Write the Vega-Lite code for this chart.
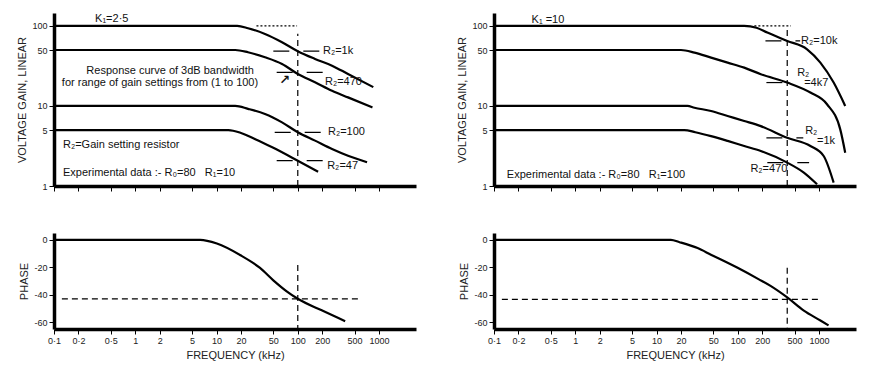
{
  "$schema": "https://vega.github.io/schema/vega-lite/v6.json",
  "background": "white",
  "padding": {"left": 16, "top": 13, "right": 5, "bottom": 4},
  "columns": 2,
  "spacing": {"row": 41, "column": 40},
  "config": {
    "view": {"stroke": null},
    "font": "Liberation Sans",
    "axis": {
      "domainColor": "black", "domainWidth": 3.5, "tickColor": "black", "tickWidth": 1, "tickSize": 5,
      "labelFont": "Liberation Sans", "labelFontSize": 9, "labelColor": "#222",
      "titleFont": "Liberation Sans", "titleFontSize": 11, "titleFontWeight": "normal", "titleColor": "#222",
      "grid": false, "labelPadding": 2, "titlePadding": 4, "labelFlush": false, "labelOverlap": false
    }
  },
  "datasets": {
    "curves": [
      {"panel": "A", "curve": "1k", "f": 0.1, "v": 100}, {"panel": "A", "curve": "1k", "f": 18, "v": 100}, {"panel": "A", "curve": "1k", "f": 24.4, "v": 93.6}, {"panel": "A", "curve": "1k", "f": 39.5, "v": 79.4}, {"panel": "A", "curve": "1k", "f": 64, "v": 62.6}, {"panel": "A", "curve": "1k", "f": 100, "v": 48.3}, {"panel": "A", "curve": "1k", "f": 163, "v": 38.7}, {"panel": "A", "curve": "1k", "f": 264, "v": 31.9}, {"panel": "A", "curve": "1k", "f": 415, "v": 25.1}, {"panel": "A", "curve": "1k", "f": 850, "v": 17.2},
      {"panel": "A", "curve": "470", "f": 0.1, "v": 50}, {"panel": "A", "curve": "470", "f": 17, "v": 50}, {"panel": "A", "curve": "470", "f": 24.4, "v": 46.9}, {"panel": "A", "curve": "470", "f": 39.5, "v": 40.6}, {"panel": "A", "curve": "470", "f": 64, "v": 33.5}, {"panel": "A", "curve": "470", "f": 100, "v": 25.1}, {"panel": "A", "curve": "470", "f": 163, "v": 19.8}, {"panel": "A", "curve": "470", "f": 264, "v": 15.5}, {"panel": "A", "curve": "470", "f": 415, "v": 12.8}, {"panel": "A", "curve": "470", "f": 830, "v": 9.6},
      {"panel": "A", "curve": "100", "f": 0.1, "v": 10}, {"panel": "A", "curve": "100", "f": 17, "v": 10}, {"panel": "A", "curve": "100", "f": 24.4, "v": 9.2}, {"panel": "A", "curve": "100", "f": 39.5, "v": 7.95}, {"panel": "A", "curve": "100", "f": 64, "v": 6.24}, {"panel": "A", "curve": "100", "f": 100, "v": 4.69}, {"panel": "A", "curve": "100", "f": 163, "v": 3.69}, {"panel": "A", "curve": "100", "f": 264, "v": 2.9}, {"panel": "A", "curve": "100", "f": 415, "v": 2.39}, {"panel": "A", "curve": "100", "f": 712, "v": 1.98},
      {"panel": "A", "curve": "47", "f": 0.1, "v": 5}, {"panel": "A", "curve": "47", "f": 14, "v": 5}, {"panel": "A", "curve": "47", "f": 20, "v": 4.6}, {"panel": "A", "curve": "47", "f": 30, "v": 3.85}, {"panel": "A", "curve": "47", "f": 50, "v": 3.0}, {"panel": "A", "curve": "47", "f": 100, "v": 2.07}, {"panel": "A", "curve": "47", "f": 178, "v": 1.51},
      {"panel": "B", "curve": "10k", "f": 0.1, "v": 100}, {"panel": "B", "curve": "10k", "f": 120, "v": 100}, {"panel": "B", "curve": "10k", "f": 170, "v": 95}, {"panel": "B", "curve": "10k", "f": 231, "v": 82.5}, {"panel": "B", "curve": "10k", "f": 406, "v": 65}, {"panel": "B", "curve": "10k", "f": 713, "v": 51.1}, {"panel": "B", "curve": "10k", "f": 1038, "v": 34.8}, {"panel": "B", "curve": "10k", "f": 1513, "v": 19.6}, {"panel": "B", "curve": "10k", "f": 2100, "v": 10},
      {"panel": "B", "curve": "4k7", "f": 0.1, "v": 50}, {"panel": "B", "curve": "4k7", "f": 20, "v": 50}, {"panel": "B", "curve": "4k7", "f": 29.3, "v": 46.4}, {"panel": "B", "curve": "4k7", "f": 46.9, "v": 40.2}, {"panel": "B", "curve": "4k7", "f": 75, "v": 34.8}, {"panel": "B", "curve": "4k7", "f": 120, "v": 30.1}, {"panel": "B", "curve": "4k7", "f": 192, "v": 24.9}, {"panel": "B", "curve": "4k7", "f": 406, "v": 19.6}, {"panel": "B", "curve": "4k7", "f": 783, "v": 14.7}, {"panel": "B", "curve": "4k7", "f": 1253, "v": 10.5}, {"panel": "B", "curve": "4k7", "f": 1824, "v": 5.1}, {"panel": "B", "curve": "4k7", "f": 2100, "v": 2.6},
      {"panel": "B", "curve": "1k", "f": 0.1, "v": 10}, {"panel": "B", "curve": "1k", "f": 24, "v": 10}, {"panel": "B", "curve": "1k", "f": 29.3, "v": 9.5}, {"panel": "B", "curve": "1k", "f": 46.9, "v": 8.66}, {"panel": "B", "curve": "1k", "f": 75, "v": 7.5}, {"panel": "B", "curve": "1k", "f": 120, "v": 6.5}, {"panel": "B", "curve": "1k", "f": 192, "v": 5.6}, {"panel": "B", "curve": "1k", "f": 406, "v": 4.0}, {"panel": "B", "curve": "1k", "f": 783, "v": 3.16}, {"panel": "B", "curve": "1k", "f": 1140, "v": 2.37}, {"panel": "B", "curve": "1k", "f": 1513, "v": 1.1},
      {"panel": "B", "curve": "470", "f": 0.1, "v": 5}, {"panel": "B", "curve": "470", "f": 22, "v": 5}, {"panel": "B", "curve": "470", "f": 30, "v": 4.7}, {"panel": "B", "curve": "470", "f": 46.9, "v": 4.2}, {"panel": "B", "curve": "470", "f": 75, "v": 3.66}, {"panel": "B", "curve": "470", "f": 120, "v": 3.16}, {"panel": "B", "curve": "470", "f": 192, "v": 2.74}, {"panel": "B", "curve": "470", "f": 406, "v": 1.96}, {"panel": "B", "curve": "470", "f": 650, "v": 1.47}, {"panel": "B", "curve": "470", "f": 946, "v": 1.05},
      {"panel": "C", "curve": "phase", "f": 0.1, "v": 0}, {"panel": "C", "curve": "phase", "f": 6.3, "v": 0}, {"panel": "C", "curve": "phase", "f": 10.1, "v": -2.7}, {"panel": "C", "curve": "phase", "f": 19.7, "v": -11.2}, {"panel": "C", "curve": "phase", "f": 34.3, "v": -20.5}, {"panel": "C", "curve": "phase", "f": 50, "v": -29.5}, {"panel": "C", "curve": "phase", "f": 73, "v": -37.5}, {"panel": "C", "curve": "phase", "f": 100, "v": -42.9}, {"panel": "C", "curve": "phase", "f": 197, "v": -51.4}, {"panel": "C", "curve": "phase", "f": 383, "v": -59.3},
      {"panel": "D", "curve": "phase", "f": 0.1, "v": 0}, {"panel": "D", "curve": "phase", "f": 15, "v": 0}, {"panel": "D", "curve": "phase", "f": 19.2, "v": -1.7}, {"panel": "D", "curve": "phase", "f": 32, "v": -6}, {"panel": "D", "curve": "phase", "f": 46.7, "v": -10.8}, {"panel": "D", "curve": "phase", "f": 99.5, "v": -20.4}, {"panel": "D", "curve": "phase", "f": 182, "v": -28.8}, {"panel": "D", "curve": "phase", "f": 253, "v": -33.6}, {"panel": "D", "curve": "phase", "f": 406, "v": -42}, {"panel": "D", "curve": "phase", "f": 650, "v": -51.6}, {"panel": "D", "curve": "phase", "f": 1040, "v": -58.8}, {"panel": "D", "curve": "phase", "f": 1310, "v": -62.4}
    ],
    "guides": [
      {"panel": "A", "kind": "cross", "f": 100, "f2": 100, "v": 1, "v2": 80},
      {"panel": "A", "kind": "level", "f": 31, "f2": 98, "v": 100, "v2": 100},
      {"panel": "A", "kind": "mark", "f": 50, "f2": 197, "v": 48.3, "v2": 48.3},
      {"panel": "A", "kind": "mark", "f": 55, "f2": 216, "v": 26.3, "v2": 26.3},
      {"panel": "A", "kind": "mark", "f": 52, "f2": 230, "v": 4.69, "v2": 4.69},
      {"panel": "A", "kind": "mark", "f": 55, "f2": 230, "v": 2.07, "v2": 2.07},
      {"panel": "B", "kind": "cross", "f": 406, "f2": 406, "v": 1, "v2": 100},
      {"panel": "B", "kind": "level", "f": 160, "f2": 450, "v": 100, "v2": 100},
      {"panel": "B", "kind": "mark", "f": 219, "f2": 586, "v": 65, "v2": 65},
      {"panel": "B", "kind": "mark", "f": 225, "f2": 520, "v": 19.6, "v2": 19.6},
      {"panel": "B", "kind": "mark", "f": 225, "f2": 640, "v": 4.0, "v2": 4.0},
      {"panel": "B", "kind": "mark", "f": 231, "f2": 755, "v": 1.96, "v2": 1.96},
      {"panel": "C", "kind": "cross", "f": 100, "f2": 100, "v": -18.3, "v2": -65},
      {"panel": "C", "kind": "cross", "f": 0.125, "f2": 577, "v": -43, "v2": -43},
      {"panel": "D", "kind": "cross", "f": 406, "f2": 406, "v": -20.4, "v2": -65},
      {"panel": "D", "kind": "cross", "f": 0.125, "f2": 1070, "v": -43.4, "v2": -43.4}
    ],
    "labels": [
      {"panel": "A", "kind": "label", "f": 0.32, "v": 122, "text": "K₁=2·5"},
      {"panel": "A", "kind": "label", "f": 0.25, "v": 27.4, "text": "Response curve of 3dB bandwidth"},
      {"panel": "A", "kind": "label", "f": 0.125, "v": 19.4, "text": "for range of gain settings from (1 to 100)"},
      {"panel": "A", "kind": "arrow", "f": 59, "v": 21, "text": "↗"},
      {"panel": "A", "kind": "label", "f": 204, "v": 48, "text": "R₂=1k"},
      {"panel": "A", "kind": "label", "f": 216, "v": 19.8, "text": "R₂=470"},
      {"panel": "A", "kind": "label", "f": 235, "v": 4.7, "text": "R₂=100"},
      {"panel": "A", "kind": "label", "f": 230, "v": 1.8, "text": "R₂=47"},
      {"panel": "A", "kind": "label", "f": 0.129, "v": 3.24, "text": "R₂=Gain setting resistor"},
      {"panel": "A", "kind": "label", "f": 0.129, "v": 1.45, "text": "Experimental data :- R₀=80\u00a0\u00a0\u00a0R₁=10"},
      {"panel": "B", "kind": "label", "f": 0.29, "v": 119, "text": "K₁ =10"},
      {"panel": "B", "kind": "label", "f": 600, "v": 65, "text": "R₂=10k"},
      {"panel": "B", "kind": "label", "f": 538, "v": 25.5, "text": "R₂"},
      {"panel": "B", "kind": "label", "f": 656, "v": 19.5, "text": "=4k7"},
      {"panel": "B", "kind": "label", "f": 675, "v": 4.9, "text": "R₂"},
      {"panel": "B", "kind": "label", "f": 946, "v": 3.66, "text": "=1k"},
      {"panel": "B", "kind": "label", "f": 143, "v": 1.63, "text": "R₂=470"},
      {"panel": "B", "kind": "label", "f": 0.144, "v": 1.38, "text": "Experimental data :- R₀=80\u00a0\u00a0\u00a0R₁=100"}
    ]
  },
  "concat": [
    {
      "width": 362, "height": 173,
      "encoding": {
        "x": {"field": "f", "type": "quantitative", "scale": {"type": "log", "domain": [0.1, 2850], "nice": false}, "axis": {"values": [0.1, 0.2, 0.5, 1, 2, 5, 10, 20, 50, 100, 200, 500, 1000], "labels": false, "title": null}},
        "y": {"field": "v", "type": "quantitative", "scale": {"type": "log", "domain": [1, 145], "nice": false}, "axis": {"values": [1, 5, 10, 50, 100], "format": "d", "title": "VOLTAGE GAIN, LINEAR"}}
      },
      "layer": [
        {"data": {"name": "guides"}, "transform": [{"filter": "datum.panel === 'A' && datum.kind === 'cross'"}], "mark": {"type": "rule", "color": "black", "strokeWidth": 1.2, "strokeDash": [6, 4]}, "encoding": {"x2": {"field": "f2"}, "y2": {"field": "v2"}}},
        {"data": {"name": "guides"}, "transform": [{"filter": "datum.panel === 'A' && datum.kind === 'level'"}], "mark": {"type": "rule", "color": "black", "strokeWidth": 1.2, "strokeDash": [2, 2]}, "encoding": {"x2": {"field": "f2"}, "y2": {"field": "v2"}}},
        {"data": {"name": "guides"}, "transform": [{"filter": "datum.panel === 'A' && datum.kind === 'mark'"}], "mark": {"type": "rule", "color": "black", "strokeWidth": 1.2, "strokeDash": [16, 14]}, "encoding": {"x2": {"field": "f2"}, "y2": {"field": "v2"}}},
        {"data": {"name": "curves"}, "transform": [{"filter": "datum.panel === 'A'"}], "mark": {"type": "line", "color": "black", "strokeWidth": 2.2, "interpolate": "monotone"}, "encoding": {"detail": {"field": "curve"}}},
        {"data": {"name": "labels"}, "transform": [{"filter": "datum.panel === 'A' && datum.kind === 'label'"}], "mark": {"type": "text", "align": "left", "baseline": "middle", "fontSize": 11, "font": "Liberation Sans", "color": "#111"}, "encoding": {"text": {"field": "text"}}},
        {"data": {"name": "labels"}, "transform": [{"filter": "datum.panel === 'A' && datum.kind === 'arrow'"}], "mark": {"type": "text", "align": "left", "baseline": "middle", "fontSize": 13, "fontWeight": "bold", "font": "DejaVu Sans", "color": "#111"}, "encoding": {"text": {"field": "text"}}}
      ]
    },
    {
      "width": 362, "height": 173,
      "encoding": {
        "x": {"field": "f", "type": "quantitative", "scale": {"type": "log", "domain": [0.1, 2850], "nice": false}, "axis": {"values": [0.1, 0.2, 0.5, 1, 2, 5, 10, 20, 50, 100, 200, 500, 1000], "labels": false, "title": null}},
        "y": {"field": "v", "type": "quantitative", "scale": {"type": "log", "domain": [1, 145], "nice": false}, "axis": {"values": [1, 5, 10, 50, 100], "format": "d", "title": "VOLTAGE GAIN, LINEAR"}}
      },
      "layer": [
        {"data": {"name": "guides"}, "transform": [{"filter": "datum.panel === 'B' && datum.kind === 'cross'"}], "mark": {"type": "rule", "color": "black", "strokeWidth": 1.2, "strokeDash": [6, 4]}, "encoding": {"x2": {"field": "f2"}, "y2": {"field": "v2"}}},
        {"data": {"name": "guides"}, "transform": [{"filter": "datum.panel === 'B' && datum.kind === 'level'"}], "mark": {"type": "rule", "color": "black", "strokeWidth": 1.2, "strokeDash": [2, 2]}, "encoding": {"x2": {"field": "f2"}, "y2": {"field": "v2"}}},
        {"data": {"name": "guides"}, "transform": [{"filter": "datum.panel === 'B' && datum.kind === 'mark'"}], "mark": {"type": "rule", "color": "black", "strokeWidth": 1.2, "strokeDash": [16, 14]}, "encoding": {"x2": {"field": "f2"}, "y2": {"field": "v2"}}},
        {"data": {"name": "curves"}, "transform": [{"filter": "datum.panel === 'B'"}], "mark": {"type": "line", "color": "black", "strokeWidth": 2.2, "interpolate": "monotone"}, "encoding": {"detail": {"field": "curve"}}},
        {"data": {"name": "labels"}, "transform": [{"filter": "datum.panel === 'B' && datum.kind === 'label'"}], "mark": {"type": "text", "align": "left", "baseline": "middle", "fontSize": 11, "font": "Liberation Sans", "color": "#111"}, "encoding": {"text": {"field": "text"}}}
      ]
    },
    {
      "width": 362, "height": 96,
      "encoding": {
        "x": {"field": "f", "type": "quantitative", "scale": {"type": "log", "domain": [0.1, 2850], "nice": false}, "axis": {"values": [0.1, 0.2, 0.5, 1, 2, 5, 10, 20, 50, 100, 200, 500, 1000], "labelExpr": "datum.value == 0.1 ? '0·1' : datum.value == 0.2 ? '0·2' : datum.value == 0.5 ? '0·5' : '' + datum.value", "title": "FREQUENCY (kHz)"}},
        "y": {"field": "v", "type": "quantitative", "scale": {"domain": [-65, 5], "nice": false, "zero": false}, "axis": {"values": [0, -20, -40, -60], "labelExpr": "'' + datum.value", "title": "PHASE"}}
      },
      "layer": [
        {"data": {"name": "guides"}, "transform": [{"filter": "datum.panel === 'C'"}], "mark": {"type": "rule", "color": "black", "strokeWidth": 1.2, "strokeDash": [6, 4]}, "encoding": {"x2": {"field": "f2"}, "y2": {"field": "v2"}}},
        {"data": {"name": "curves"}, "transform": [{"filter": "datum.panel === 'C'"}], "mark": {"type": "line", "color": "black", "strokeWidth": 2.2, "interpolate": "monotone"}, "encoding": {"detail": {"field": "curve"}}}
      ]
    },
    {
      "width": 362, "height": 96,
      "encoding": {
        "x": {"field": "f", "type": "quantitative", "scale": {"type": "log", "domain": [0.1, 2850], "nice": false}, "axis": {"values": [0.1, 0.2, 0.5, 1, 2, 5, 10, 20, 50, 100, 200, 500, 1000], "labelExpr": "datum.value == 0.1 ? '0·1' : datum.value == 0.2 ? '0·2' : datum.value == 0.5 ? '0·5' : '' + datum.value", "title": "FREQUENCY (kHz)"}},
        "y": {"field": "v", "type": "quantitative", "scale": {"domain": [-65, 5], "nice": false, "zero": false}, "axis": {"values": [0, -20, -40, -60], "labelExpr": "'' + datum.value", "title": "PHASE"}}
      },
      "layer": [
        {"data": {"name": "guides"}, "transform": [{"filter": "datum.panel === 'D'"}], "mark": {"type": "rule", "color": "black", "strokeWidth": 1.2, "strokeDash": [6, 4]}, "encoding": {"x2": {"field": "f2"}, "y2": {"field": "v2"}}},
        {"data": {"name": "curves"}, "transform": [{"filter": "datum.panel === 'D'"}], "mark": {"type": "line", "color": "black", "strokeWidth": 2.2, "interpolate": "monotone"}, "encoding": {"detail": {"field": "curve"}}}
      ]
    }
  ]
}
